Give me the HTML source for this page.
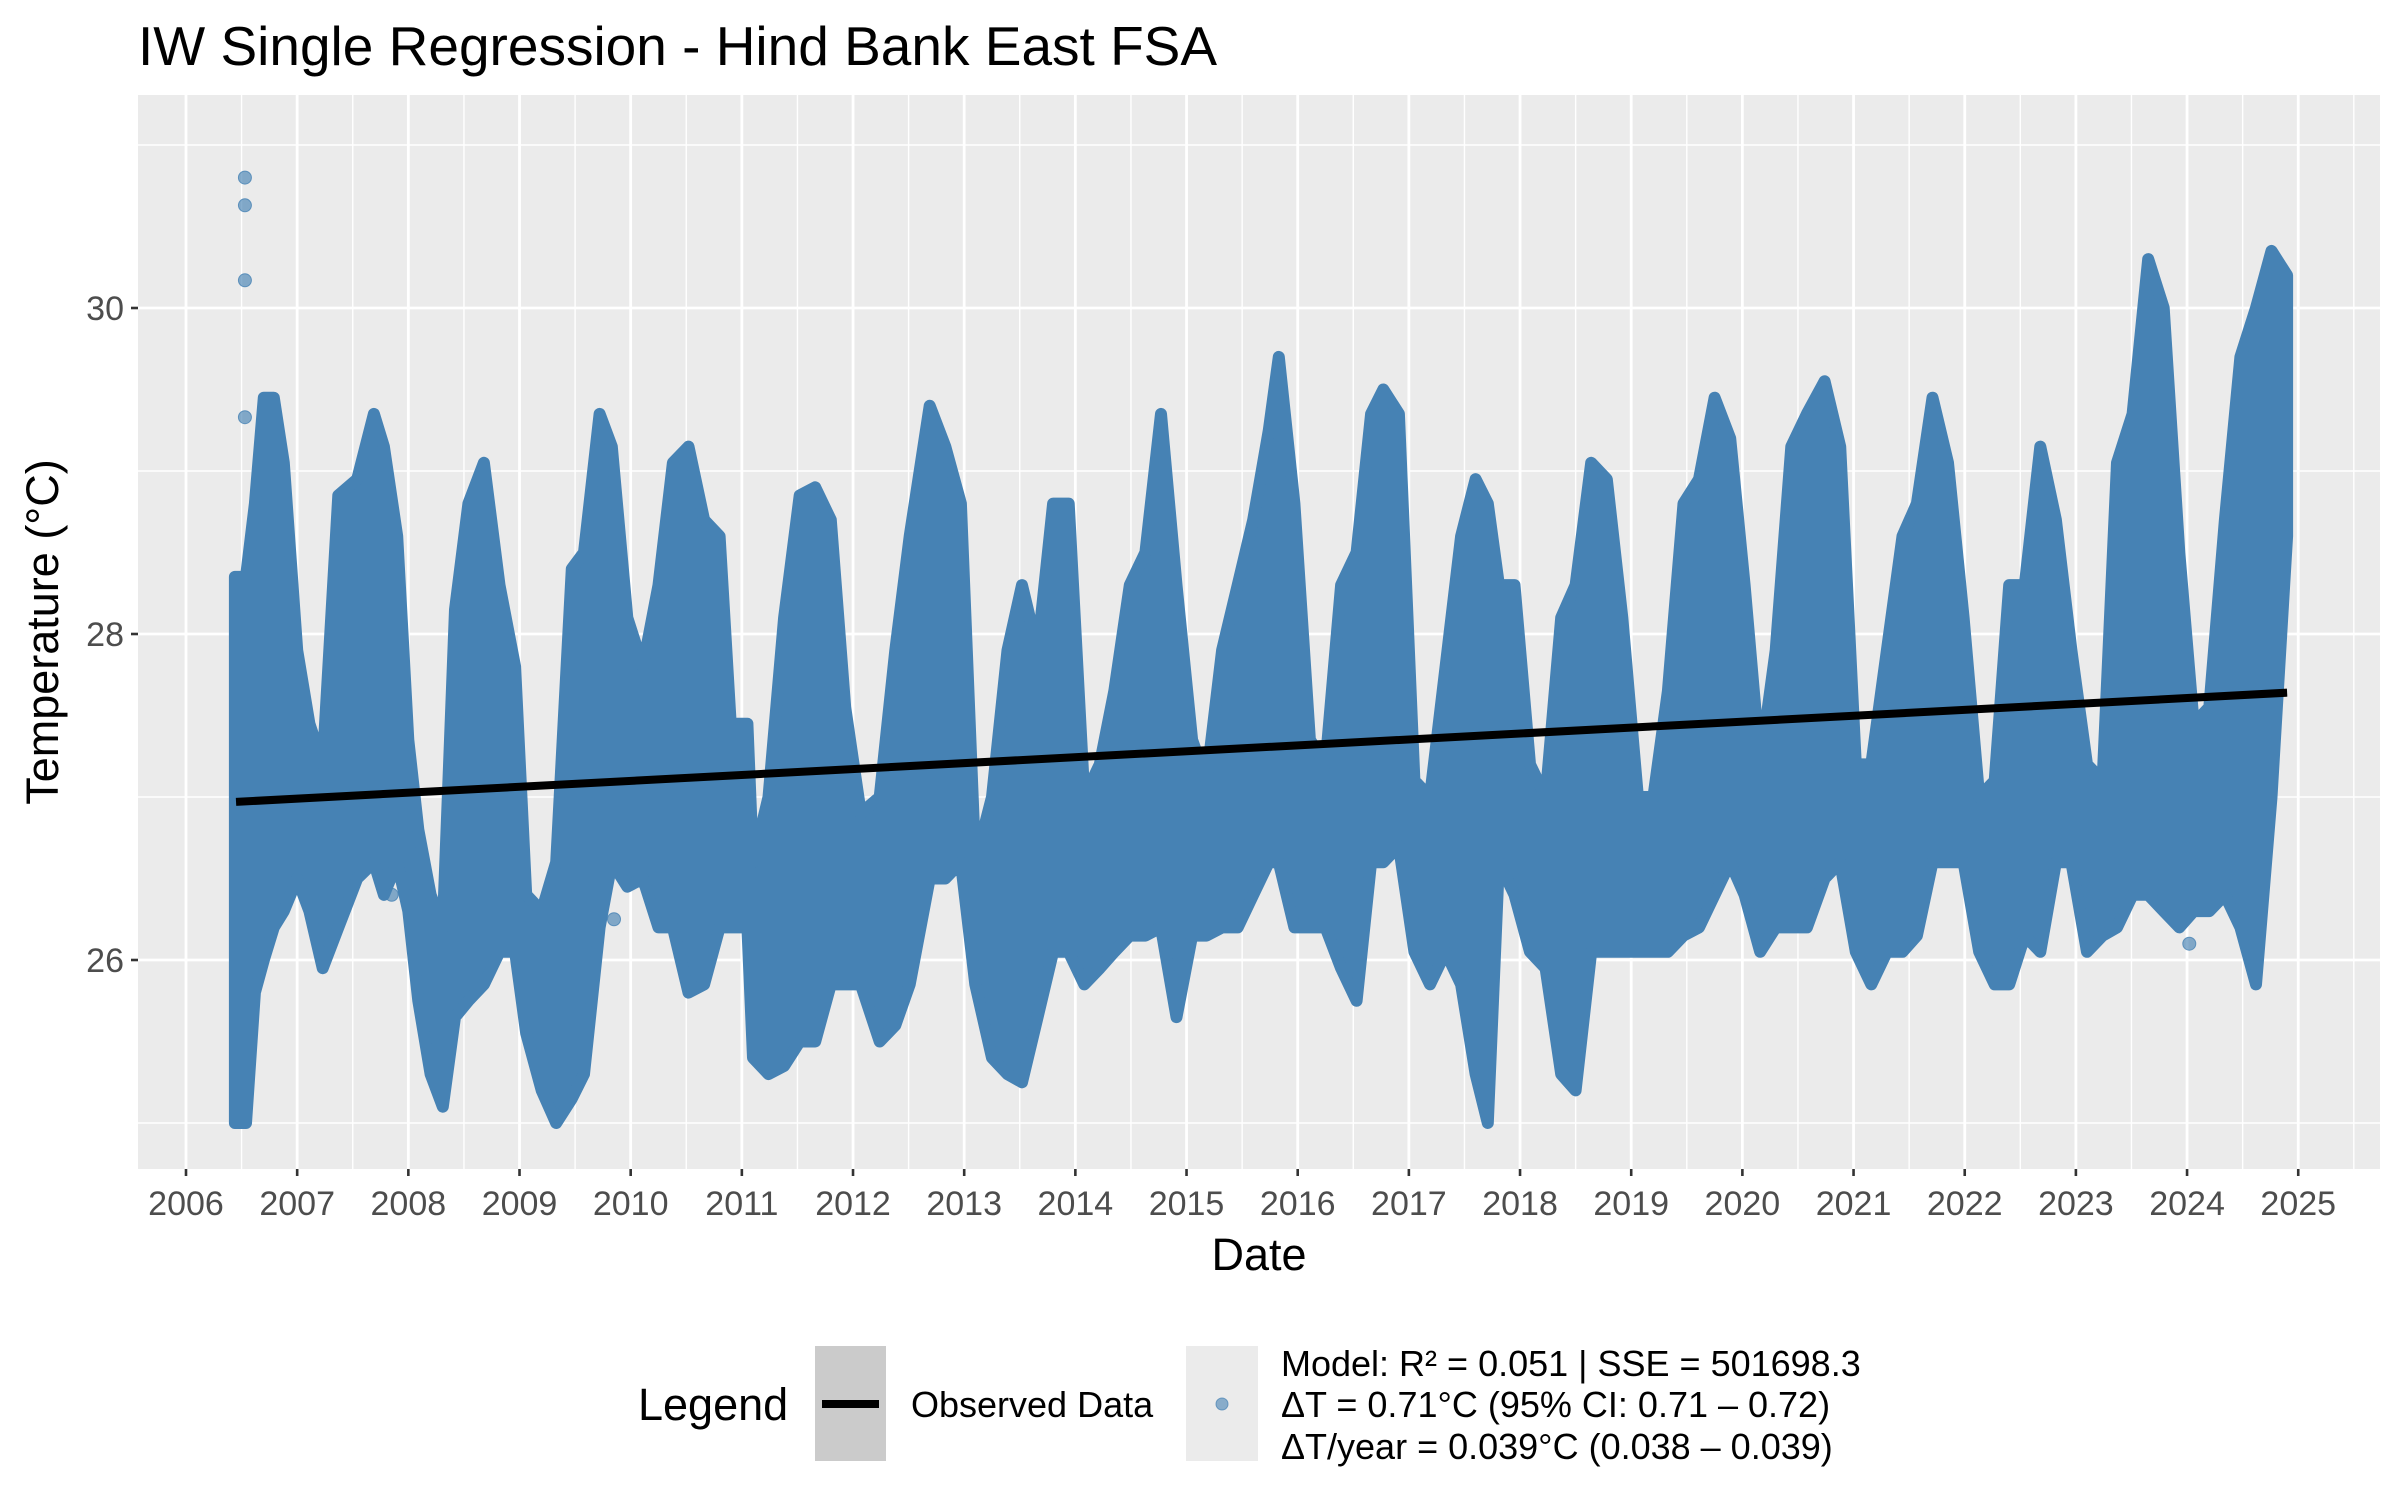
<!DOCTYPE html>
<html><head><meta charset="utf-8">
<style>
html,body{margin:0;padding:0;background:#fff;}
svg{display:block;font-family:"Liberation Sans",Arial,sans-serif;}
</style></head>
<body>
<svg id="chart" width="2400" height="1500" viewBox="0 0 2400 1500">
<text x="138" y="65" font-size="55" fill="#000">IW Single Regression - Hind Bank East FSA</text>
<rect x="138" y="95" width="2242" height="1074" fill="#ebebeb"/>
<g id="grid"></g>
<g id="data"></g>
<g id="axes"></g>
<text x="1259" y="1270" font-size="45" text-anchor="middle" fill="#000">Date</text>
<text transform="translate(58,632) rotate(-90)" font-size="45" text-anchor="middle" fill="#000">Temperature (°C)</text>
<g>
<text x="638" y="1420" font-size="45" fill="#000">Legend</text>
<rect x="815" y="1346" width="71" height="115" fill="#cbcbcb"/>
<line x1="822" y1="1404" x2="879" y2="1404" stroke="#000" stroke-width="8"/>
<text x="911" y="1417" font-size="36" fill="#000">Observed Data</text>
<rect x="1186" y="1346" width="72" height="115" fill="#ebebeb"/>
<circle cx="1222" cy="1404" r="6" fill="#4682b4" fill-opacity="0.6" stroke="#4682b4" stroke-opacity="0.7"/>
<text x="1281" y="1376" font-size="36" fill="#000">Model: R² = 0.051 | SSE = 501698.3</text>
<text x="1281" y="1417" font-size="36" fill="#000">ΔT = 0.71°C (95% CI: 0.71 – 0.72)</text>
<text x="1281" y="1459" font-size="36" fill="#000">ΔT/year = 0.039°C (0.038 – 0.039)</text>
</g>
</svg>
<script>
const yearTicks=[2006,2007,2008,2009,2010,2011,2012,2013,2014,2015,2016,2017,2018,2019,2020,2021,2022,2023,2024,2025];
const tempTicks=[26,28,30];
const tempMinor=[25,27,29,31];
const sampleDates=[2006.44,2006.54,2006.62,2006.70,2006.79,2006.88,2007.0,2007.11,2007.23,2007.37,2007.54,2007.69,2007.78,2007.9,2008.0,2008.09,2008.2,2008.31,2008.42,2008.54,2008.68,2008.82,2008.96,2009.06,2009.2,2009.33,2009.47,2009.58,2009.72,2009.83,2009.97,2010.11,2010.25,2010.38,2010.52,2010.66,2010.8,2010.9,2011.05,2011.1,2011.24,2011.38,2011.52,2011.66,2011.8,2011.93,2012.07,2012.24,2012.38,2012.51,2012.69,2012.83,2012.97,2013.1,2013.25,2013.39,2013.52,2013.66,2013.8,2013.94,2014.08,2014.22,2014.35,2014.49,2014.63,2014.77,2014.91,2015.05,2015.18,2015.32,2015.46,2015.6,2015.74,2015.83,2015.97,2016.11,2016.25,2016.39,2016.53,2016.66,2016.77,2016.91,2017.05,2017.19,2017.33,2017.47,2017.6,2017.71,2017.81,2017.95,2018.09,2018.23,2018.37,2018.5,2018.64,2018.78,2018.92,2019.06,2019.2,2019.33,2019.47,2019.61,2019.75,2019.89,2020.02,2020.16,2020.3,2020.44,2020.58,2020.74,2020.88,2021.02,2021.16,2021.3,2021.44,2021.57,2021.71,2021.85,2021.99,2022.13,2022.27,2022.4,2022.54,2022.68,2022.82,2022.96,2023.1,2023.24,2023.37,2023.51,2023.65,2023.79,2023.93,2024.06,2024.2,2024.34,2024.48,2024.62,2024.76,2024.9];
const tempMax=[28.35,28.35,28.8,29.45,29.45,29.05,27.9,27.45,27.2,28.85,28.95,29.35,29.15,28.6,27.35,26.8,26.4,26.2,28.15,28.8,29.05,28.3,27.8,26.4,26.3,26.6,28.4,28.5,29.35,29.15,28.1,27.8,28.3,29.05,29.15,28.7,28.6,27.45,27.45,26.6,27.0,28.1,28.85,28.9,28.7,27.55,26.9,27.0,27.9,28.6,29.4,29.15,28.8,26.6,27.0,27.9,28.3,27.9,28.8,28.8,27.0,27.2,27.65,28.3,28.5,29.35,28.3,27.35,27.1,27.9,28.3,28.7,29.25,29.7,28.8,27.35,27.2,28.3,28.5,29.35,29.5,29.35,27.1,27.0,27.8,28.6,28.95,28.8,28.3,28.3,27.2,27.0,28.1,28.3,29.05,28.95,28.1,27.0,27.0,27.65,28.8,28.95,29.45,29.2,28.3,27.2,27.9,29.15,29.35,29.55,29.15,27.2,27.2,27.9,28.6,28.8,29.45,29.05,28.1,27.0,27.1,28.3,28.3,29.15,28.7,27.9,27.2,27.1,29.05,29.35,30.3,30.0,28.5,27.45,27.55,28.7,29.7,30.0,30.35,30.2];
const tempMin=[25.0,25.0,25.8,26.0,26.2,26.3,26.5,26.3,25.95,26.2,26.5,26.6,26.4,26.6,26.3,25.75,25.3,25.1,25.65,25.75,25.85,26.05,26.05,25.55,25.2,25.0,25.15,25.3,26.2,26.6,26.45,26.5,26.2,26.2,25.8,25.85,26.2,26.2,26.2,25.4,25.3,25.35,25.5,25.5,25.85,25.85,25.85,25.5,25.6,25.85,26.5,26.5,26.6,25.85,25.4,25.3,25.25,25.65,26.05,26.05,25.85,25.95,26.05,26.15,26.15,26.2,25.65,26.15,26.15,26.2,26.2,26.4,26.6,26.6,26.2,26.2,26.2,25.95,25.75,26.6,26.6,26.7,26.05,25.85,26.05,25.85,25.3,25.0,26.6,26.4,26.05,25.95,25.3,25.2,26.05,26.05,26.05,26.05,26.05,26.05,26.15,26.2,26.4,26.6,26.4,26.05,26.2,26.2,26.2,26.5,26.6,26.05,25.85,26.05,26.05,26.15,26.6,26.6,26.6,26.05,25.85,25.85,26.15,26.05,26.6,26.6,26.05,26.15,26.2,26.4,26.4,26.3,26.2,26.3,26.3,26.4,26.2,25.85,27.0,28.6];
const outlierDates=[2006.53,2006.53,2006.53,2006.53,2007.85,2009.85,2024.02];
const outlierTemps=[30.8,30.63,30.17,29.33,26.4,26.25,26.1];
const trendDates=[2006.45,2024.9];
const trendTemps=[26.97,27.64];

const X0=186, PX_PER_YEAR=111.17, Y30=308, PX_PER_DEG=163;
const PL=138, PR=2380, PT=95, PB=1169;
const xs=d=>X0+(d-2006)*PX_PER_YEAR;
const ys=t=>Y30+(30-t)*PX_PER_DEG;
const NS='http://www.w3.org/2000/svg';
function mk(tag,parent,attrs){const e=document.createElementNS(NS,tag);for(const k in attrs)e.setAttribute(k,attrs[k]);parent.appendChild(e);return e;}
const grid=document.getElementById('grid'),data=document.getElementById('data'),axes=document.getElementById('axes');

tempMinor.forEach(t=>{const y=ys(t);if(y<PT||y>PB)return;
 const l=mk('line',grid,{x1:PL,x2:PR,y1:y,y2:y,stroke:'#fff','stroke-width':1.4});
 
 });
yearTicks.forEach(yr=>{const x=xs(yr+0.5);if(x<PL||x>PR)return;
 const l=mk('line',grid,{x1:x,x2:x,y1:PT,y2:PB,stroke:'#fff','stroke-width':1.4});
 
 });
{const x=xs(2005.5);if(x>PL){const l=mk('line',grid,{x1:x,x2:x,y1:PT,y2:PB,stroke:'#fff','stroke-width':1.4});
 
 }}
tempTicks.forEach(t=>{const y=ys(t);
 const l=mk('line',grid,{x1:PL,x2:PR,y1:y,y2:y,stroke:'#fff','stroke-width':2.8});
 
 
 const tk=mk('line',axes,{x1:PL-7,x2:PL,y1:y,y2:y,stroke:'#333','stroke-width':2.6});
 
 
 const tx=mk('text',axes,{x:PL-14,y:y+12,'font-size':34,fill:'#4d4d4d','text-anchor':'end'});
 tx.textContent=t;
 
 });
yearTicks.forEach(yr=>{const x=xs(yr);
 const l=mk('line',grid,{x1:x,x2:x,y1:PT,y2:PB,stroke:'#fff','stroke-width':2.8});
 
 
 const tk=mk('line',axes,{x1:x,x2:x,y1:PB,y2:PB+7,stroke:'#333','stroke-width':2.6});
 
 
 const tx=mk('text',axes,{x:x,y:1215,'font-size':34,fill:'#4d4d4d','text-anchor':'middle'});
 tx.textContent=yr;
 
 });

let pts=[];
for(let i=0;i<sampleDates.length;i++)pts.push(xs(sampleDates[i]).toFixed(1)+','+ys(tempMax[i]).toFixed(1));
for(let i=sampleDates.length-1;i>=0;i--)pts.push(xs(sampleDates[i]).toFixed(1)+','+ys(tempMin[i]).toFixed(1));
const band=mk('polygon',data,{points:pts.join(' '),fill:'#4682b4',stroke:'#4682b4','stroke-width':12,'stroke-linejoin':'round'});


outlierDates.forEach((d,i)=>{
 const c=mk('circle',data,{cx:xs(d),cy:ys(outlierTemps[i]),r:6.5,fill:'#4682b4','fill-opacity':0.65,stroke:'#4682b4','stroke-opacity':0.8});
 
 });
const tl=mk('line',data,{x1:xs(trendDates[0]),y1:ys(trendTemps[0]),x2:xs(trendDates[1]),y2:ys(trendTemps[1]),stroke:'#000','stroke-width':8});


</script>
</body></html>
